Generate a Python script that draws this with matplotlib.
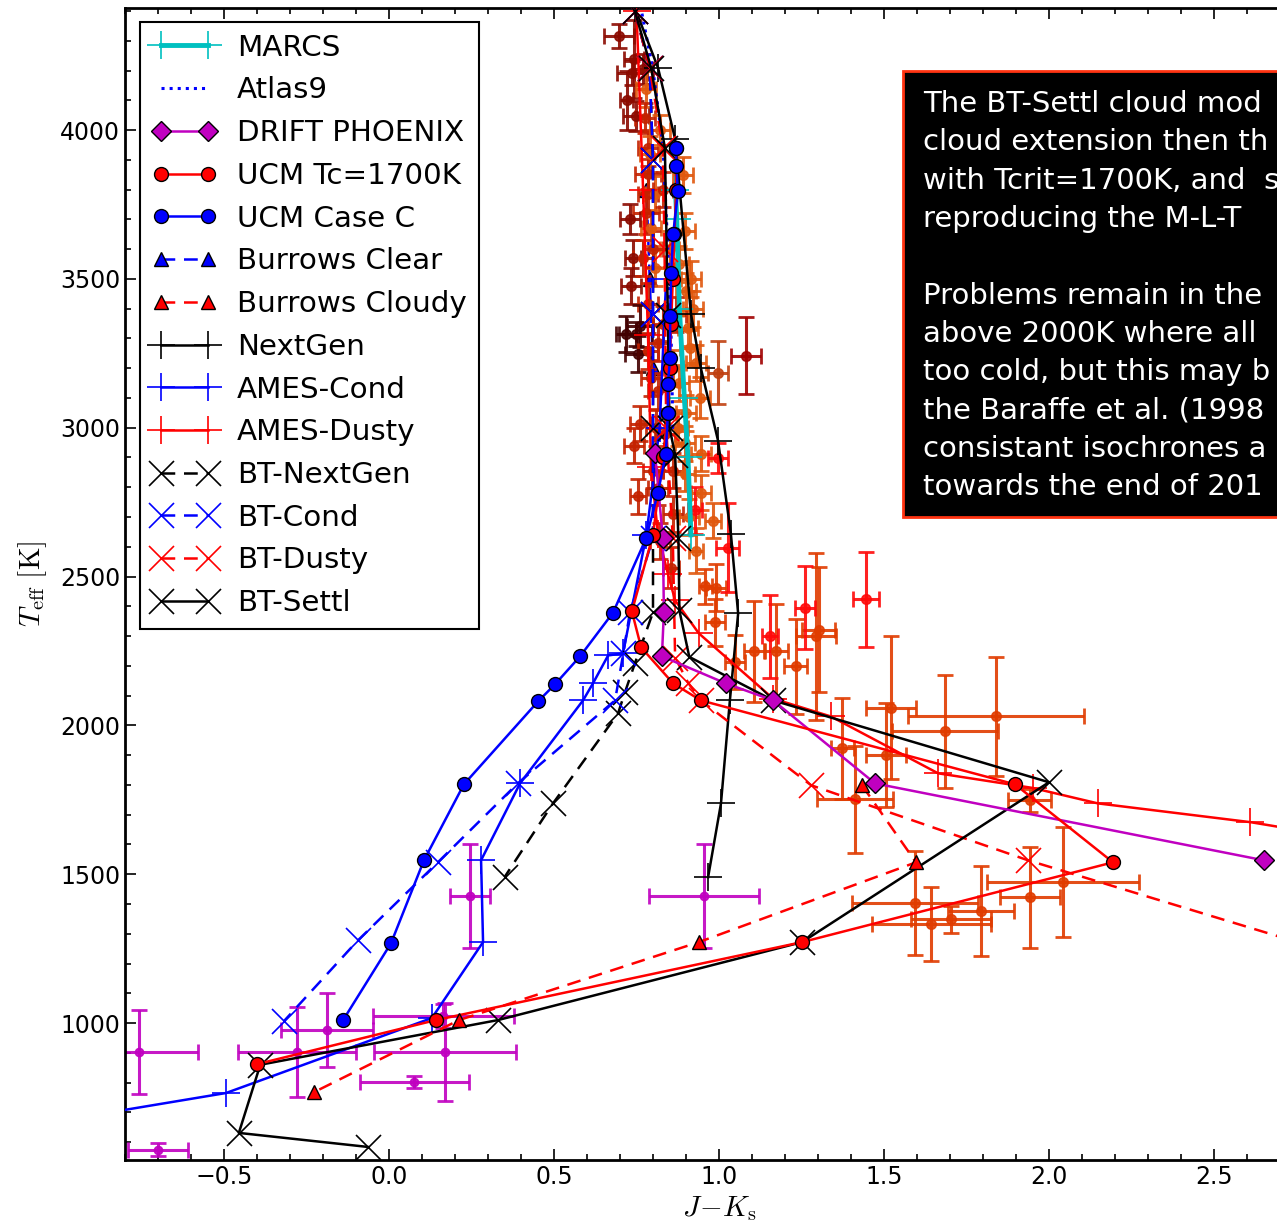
import matplotlib
matplotlib.use("Agg")
import matplotlib.pyplot as plt
from matplotlib.patches import Rectangle

plt.rcParams['mathtext.fontset'] = 'cm'
plt.rcParams['font.family'] = ['DejaVu Sans']

# ---- model tracks: J-Ks colour and Teff ----
marcs_jk = [0.915, 0.906, 0.895, 0.880, 0.872, 0.868]
marcs_teff = [2640, 2900, 3100, 3400, 3700, 3800]

atlas_jk = [0.86, 0.855, 0.845, 0.83, 0.80, 0.765]
atlas_teff = [3000, 3300, 3600, 3950, 4200, 4400]

drift_jk = [2.65, 1.473, 1.164, 1.021, 0.827, 0.833, 0.83, 0.806]
drift_teff = [1547, 1805, 2084, 2141, 2232, 2380, 2628, 2916]

ucm17_jk = [0.87, 0.87, 0.865, 0.86, 0.855, 0.85, 0.845, 0.83, 0.80, 0.736, 0.764, 0.861, 0.945, 1.897, 2.194, 1.252, 0.142, -0.40]
ucm17_teff = [3940, 3800, 3650, 3500, 3350, 3200, 3050, 2900, 2640, 2383, 2262, 2141, 2084, 1802, 1540, 1272, 1010, 862]

ucmc_jk = [0.87, 0.87, 0.876, 0.861, 0.855, 0.852, 0.852, 0.845, 0.845, 0.839, 0.815, 0.779, 0.679, 0.579, 0.503, 0.452, 0.227, 0.106, 0.006, -0.139]
ucmc_teff = [3940, 3880, 3795, 3650, 3520, 3376, 3235, 3148, 3050, 2913, 2782, 2628, 2379, 2232, 2138, 2081, 1802, 1547, 1268, 1010]

bclear_jk = [0.80, 0.79, 0.78]
bclear_teff = [3200, 3500, 3800]

bcloudy_jk = [1.433, 1.597, 0.939, 0.212, -0.227]
bcloudy_teff = [1799, 1540, 1272, 1010, 768]

nextgen_jk = [0.745, 0.815, 0.867, 0.915, 0.945, 0.997, 1.036, 1.058, 1.033, 1.006, 0.967]
nextgen_teff = [4410, 4210, 3970, 3383, 3200, 2957, 2644, 2376, 2084, 1738, 1490]

amescond_jk = [0.84, 0.82, 0.78, 0.709, 0.664, 0.618, 0.588, 0.397, 0.279, 0.285, 0.13, -0.494, -0.90]
amescond_teff = [3500, 3000, 2640, 2242, 2235, 2141, 2084, 1805, 1547, 1272, 1017, 765, 690]

amesdusty_jk = [0.75, 0.77, 0.785, 0.794, 0.815, 0.845, 0.867, 0.939, 1.164, 1.339, 1.664, 1.95, 2.148, 2.61, 2.80]
amesdusty_teff = [4400, 3800, 3312, 2867, 2644, 2510, 2420, 2309, 2090, 2030, 1839, 1790, 1738, 1675, 1640]

btnextgen_jk = [0.745, 0.79, 0.80, 0.80, 0.80, 0.80, 0.745, 0.715, 0.694, 0.497, 0.35]
btnextgen_teff = [4400, 4208, 3900, 3383, 3000, 2380, 2208, 2111, 2040, 1738, 1490]

btcond_jk = [0.745, 0.79, 0.80, 0.80, 0.80, 0.73, 0.71, 0.685, 0.39, 0.148, -0.094, -0.318]
btcond_teff = [4400, 4208, 3900, 3383, 2630, 2380, 2242, 2084, 1805, 1540, 1278, 1007]

btdusty_jk = [0.745, 0.79, 0.83, 0.835, 0.84, 0.86, 0.867, 0.906, 0.945, 1.279, 1.936, 2.80]
btdusty_teff = [4400, 4208, 3940, 3600, 3000, 2630, 2228, 2144, 2084, 1799, 1547, 1256]

btsettl_jk = [0.745, 0.794, 0.836, 0.845, 0.85, 0.867, 0.877, 0.88, 0.91, 1.164, 2.0, 1.252, 0.33, -0.39, -0.455, -0.065]
btsettl_teff = [4400, 4210, 3940, 3380, 3000, 2910, 2630, 2386, 2230, 2084, 1809, 1272, 1010, 860, 631, 584]

# ---- observed dwarfs ----
# T dwarfs (magenta)
tdw_jk = [-0.758, -0.70, -0.279, -0.188, 0.17, 0.165, 0.076, 0.245, 0.955]
tdw_teff = [903, 574, 903, 977, 903, 1025, 802, 1426, 1426]
tdw_xerr = [0.18, 0.09, 0.18, 0.14, 0.215, 0.215, 0.165, 0.06, 0.167]
tdw_yerr = [140, 22, 150, 125, 165, 40, 20, 175, 175]

# L dwarfs (orange)
ldw_jk = [0.958, 0.991, 0.988, 1.106, 1.173, 1.233, 1.303, 1.294, 1.048, 1.521, 1.685, 1.839,
          1.373, 1.506, 1.412, 1.942, 1.594, 1.643, 1.703, 1.794, 1.942, 2.042]
ldw_teff = [2467, 2463, 2346, 2249, 2249, 2198, 2322, 2299, 2212, 2060, 1980, 2030,
            1923, 1900, 1752, 1748, 1403, 1332, 1349, 1376, 1423, 1473]
ldw_xerr = [0.02, 0.03, 0.03, 0.03, 0.035, 0.035, 0.05, 0.06, 0.03, 0.075, 0.16, 0.267,
            0.035, 0.06, 0.115, 0.065, 0.19, 0.18, 0.12, 0.10, 0.09, 0.23]
ldw_yerr = [60, 80, 80, 170, 160, 160, 210, 280, 90, 240, 190, 200,
            170, 175, 180, 40, 175, 125, 45, 150, 170, 185]

# L dwarfs (red)
lred_jk = [1.445, 1.261, 1.155, 0.997, 1.027, 0.927]
lred_teff = [2423, 2396, 2299, 2899, 2597, 2722]
lred_xerr = [0.04, 0.03, 0.025, 0.03, 0.035, 0.02]
lred_yerr = [160, 140, 140, 50, 150, 80]

# single dark red point
dred_jk = [1.082]
dred_teff = [3242]
dred_xerr = [0.045]
dred_yerr = [130]

# M dwarfs (dense sequence), colour class per point
mdw_jk = [0.697, 0.742, 0.736, 0.770, 0.779, 0.748, 0.776, 0.785, 0.790, 0.785, 0.785, 0.806,
          0.779, 0.794, 0.739, 0.770, 0.806, 0.733, 0.897, 0.915, 0.900, 0.785, 0.761, 0.748,
          0.755, 0.785, 0.815, 0.906, 0.912, 0.930, 0.997, 0.942, 0.794, 0.815, 0.761, 0.742,
          0.836, 0.876, 0.897, 0.861, 0.897, 0.945, 0.755, 0.815, 0.945, 0.982, 0.861, 0.930,
          0.855, 0.800, 0.830, 0.830, 0.850, 0.820, 0.860, 0.880, 0.718, 0.730, 0.720, 0.820,
          0.880, 0.900, 0.870, 0.910, 0.890, 0.920, 0.800, 0.810]
mdw_teff = [4316, 4239, 4192, 4205, 4138, 4047, 4041, 3940, 3920, 3853, 3786, 3786,
            3722, 3671, 3571, 3571, 3537, 3477, 3661, 3500, 3460, 3416, 3342, 3315,
            3248, 3258, 3285, 3336, 3269, 3218, 3185, 3101, 3168, 3124, 3014, 2940,
            2980, 3000, 2947, 2856, 2846, 2913, 2769, 2799, 2782, 2688, 2711, 2587,
            2530, 2856, 3350, 3800, 3600, 4000, 3200, 3150, 3315, 3700, 4100, 2620,
            3550, 3050, 3380, 2700, 3850, 3400, 3600, 3000]
mdw_xerr = [0.045, 0.03, 0.045, 0.03, 0.03, 0.04, 0.03, 0.03, 0.03, 0.04, 0.03, 0.03,
            0.04, 0.03, 0.025, 0.03, 0.03, 0.03, 0.03, 0.03, 0.03, 0.03, 0.04, 0.05,
            0.04, 0.03, 0.03, 0.03, 0.03, 0.03, 0.03, 0.03, 0.03, 0.03, 0.03, 0.03,
            0.03, 0.03, 0.03, 0.03, 0.03, 0.03, 0.025, 0.03, 0.03, 0.025, 0.03, 0.02,
            0.025, 0.03, 0.03, 0.03, 0.03, 0.03, 0.03, 0.03, 0.03, 0.03, 0.02, 0.03,
            0.03, 0.03, 0.03, 0.03, 0.03, 0.03, 0.03, 0.03]
mdw_yerr = [40, 130, 40, 50, 60, 50, 50, 60, 60, 50, 60, 60,
            70, 60, 60, 60, 60, 60, 60, 60, 60, 70, 70, 40,
            60, 60, 60, 60, 60, 60, 105, 70, 60, 60, 60, 60,
            60, 60, 60, 60, 60, 60, 60, 60, 60, 60, 60, 75,
            70, 60, 60, 60, 60, 50, 60, 60, 60, 50, 100, 60,
            60, 60, 60, 60, 60, 60, 60, 60]
mdw_cls = ['m', 'm', 'm', 'm', 'o', 'm', 'r', 'r', 'o', 'r', 'r', 'o',
           'r', 'o', 'm', 'r', 'o', 'm', 'o', 'o', 'o', 'r', 'd', 'd',
           'd', 'r', 'r', 'o', 'o', 'o', 'b', 'o', 'r', 'r', 'r', 'r',
           'r', 'o', 'o', 'r', 'o', 'o', 'r', 'r', 'o', 'o', 'r', 'o',
           'r', 'r', 'r', 'r', 'o', 'o', 'o', 'o', 'd', 'm', 'm', 'r',
           'o', 'o', 'r', 'o', 'o', 'o', 'r', 'r']
mdw_colors = {'m': '#8b0a00', 'r': '#c42200', 'o': '#e0580e', 'd': '#420000', 'b': '#c04010'}

# note box text (the box runs off the right edge, only this much shows)
note_lines = [
    "The BT-Settl cloud mod",
    "cloud extension then th",
    "with Tcrit=1700K, and  s",
    "reproducing the M-L-T",
    "",
    "Problems remain in the",
    "above 2000K where all",
    "too cold, but this may b",
    "the Baraffe et al. (1998",
    "consistant isochrones a",
    "towards the end of 201",
]

W, H = 1277, 1225
fig = plt.figure(figsize=(W / 100, H / 100), dpi=100)
ax = fig.add_axes([125 / W, 65 / H, 1188 / W, 1152 / H])


def obs(jk, teff, xe, ye, col, ms=7):
    for i in range(len(jk)):
        c = col[i] if isinstance(col, list) else col
        ax.errorbar(jk[i], teff[i], xerr=xe[i], yerr=ye[i], fmt='o', ms=ms, color=c,
                    mec=c, ecolor=c, elinewidth=2.2, capsize=6, capthick=2, alpha=0.9, zorder=2)


obs(mdw_jk, mdw_teff, mdw_xerr, mdw_yerr, [mdw_colors[k] for k in mdw_cls])
obs(ldw_jk, ldw_teff, ldw_xerr, ldw_yerr, '#e03c00')
obs(lred_jk, lred_teff, lred_xerr, lred_yerr, '#ff0a0a')
obs(dred_jk, dred_teff, dred_xerr, dred_yerr, '#a00000')
obs(tdw_jk, tdw_teff, tdw_xerr, tdw_yerr, '#c000c0', ms=6)

lw = 1.8
dash = (0, (5.5, 3.5))
ax.plot(marcs_jk, marcs_teff, '-', color='#00c0c0', lw=3.5, marker='+', ms=20, mew=1.2, label='MARCS', zorder=3)
ax.plot(atlas_jk, atlas_teff, ':', color='blue', lw=2.2, label='Atlas9', zorder=3)
ax.plot(drift_jk, drift_teff, '-', color='#c000c0', lw=lw, marker='D', ms=10, mfc='#c000c0', mec='black', mew=1, label='DRIFT PHOENIX', zorder=4)
ax.plot(ucm17_jk, ucm17_teff, '-', color='red', lw=lw, marker='o', ms=10, mfc='red', mec='black', mew=1, label='UCM Tc=1700K', zorder=4)
ax.plot(ucmc_jk, ucmc_teff, '-', color='blue', lw=lw, marker='o', ms=10, mfc='blue', mec='black', mew=1, label='UCM Case C', zorder=4)
ax.plot(bclear_jk, bclear_teff, linestyle=dash, color='blue', lw=lw, marker='^', ms=10, mfc='blue', mec='black', mew=1, label='Burrows Clear', zorder=1)
ax.plot(bcloudy_jk, bcloudy_teff, linestyle=dash, color='red', lw=lw, marker='^', ms=10, mfc='red', mec='black', mew=1, label='Burrows Cloudy', zorder=4)
ax.plot(nextgen_jk, nextgen_teff, '-', color='black', lw=lw, marker='+', ms=20, mew=1.2, label='NextGen', zorder=3)
ax.plot(amescond_jk, amescond_teff, '-', color='blue', lw=lw, marker='+', ms=20, mew=1.2, label='AMES-Cond', zorder=3)
ax.plot(amesdusty_jk, amesdusty_teff, '-', color='red', lw=lw, marker='+', ms=20, mew=1.2, label='AMES-Dusty', zorder=3)
ax.plot(btnextgen_jk, btnextgen_teff, linestyle=dash, color='black', lw=lw, marker='x', ms=18, mew=1.2, label='BT-NextGen', zorder=3)
ax.plot(btcond_jk, btcond_teff, linestyle=dash, color='blue', lw=lw, marker='x', ms=18, mew=1.2, label='BT-Cond', zorder=3)
ax.plot(btdusty_jk, btdusty_teff, linestyle=dash, color='red', lw=lw, marker='x', ms=18, mew=1.2, label='BT-Dusty', zorder=3)
ax.plot(btsettl_jk, btsettl_teff, '-', color='black', lw=lw, marker='x', ms=18, mew=1.2, label='BT-Settl', zorder=3)

ax.set_xlim(-0.8, 2.8)
ax.set_ylim(540, 4410)
ax.set_xticks([-0.5, 0.0, 0.5, 1.0, 1.5, 2.0, 2.5])
ax.set_xticks([i / 10 for i in range(-8, 28)], minor=True)
ax.set_yticks([1000, 1500, 2000, 2500, 3000, 3500, 4000])
ax.set_yticks(list(range(600, 4500, 100)), minor=True)
ax.tick_params(which='both', direction='in', top=True, right=True, labelsize=17, width=1.2)
ax.tick_params(which='major', length=8)
ax.tick_params(which='minor', length=4)
for s in ax.spines.values():
    s.set_linewidth(2)
ax.set_xlabel(r'$J\!-\!K_{\rm s}$', fontsize=21, labelpad=4)
ax.set_ylabel(r'$T_{\rm eff}\ [{\rm K}]$', fontsize=21, labelpad=8)

leg = ax.legend(loc='upper left', bbox_to_anchor=(140 / W, 1 - 22 / H), bbox_transform=fig.transFigure,
                borderaxespad=0, fontsize=21.2, numpoints=2, handlelength=2.2, handletextpad=0.7,
                labelspacing=0.5, borderpad=0.4, fancybox=False, framealpha=1, edgecolor='black')
leg.get_frame().set_linewidth(1.5)

# note box at top right (runs off the figure edge)
fig.patches.append(Rectangle((903 / W, 1 - 517 / H), 0.5, (517 - 71) / H, transform=fig.transFigure,
                             facecolor='black', edgecolor='#ff3311', lw=2, zorder=10))
for i, line in enumerate(note_lines):
    fig.text(923 / W, 1 - (112 + i * 38.3) / H, line, color='white', fontsize=21,
             family='DejaVu Sans', va='baseline', ha='left', zorder=11)

fig.savefig('out.png', dpi=100)
